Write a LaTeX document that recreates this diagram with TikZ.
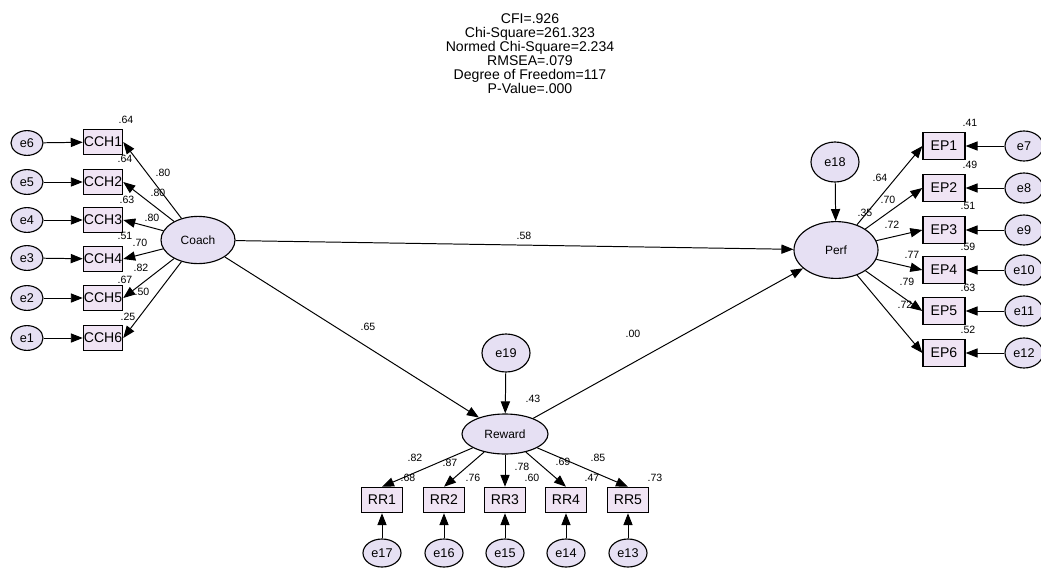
\documentclass[tikz,border=0pt]{standalone}
\usepackage{fontspec}
\setmainfont{Liberation Sans}
\usetikzlibrary{arrows.meta,shapes.geometric}
\definecolor{latfill}{RGB}{230,224,243}
\definecolor{obsfill}{RGB}{240,228,244}

\begin{document}
\begin{tikzpicture}[x=0.025cm, y=-0.025cm,
  lat/.style={draw, ellipse, fill=latfill, line width=0.8pt, inner sep=0pt, font=\fontsize{8.5}{9}\selectfont},
  err/.style={draw, ellipse, fill=latfill, line width=0.8pt, inner sep=0pt, minimum width=0.8cm, minimum height=0.62cm, font=\fontsize{9}{9}\selectfont},
  obs/.style={draw, rectangle, fill=obsfill, line width=0.9pt, inner sep=0pt, minimum width=0.98cm, minimum height=0.63cm, font=\fontsize{10}{10}\selectfont},
  coef/.style={inner sep=0pt, font=\fontsize{7.5}{8}\selectfont},
  path/.style={line width=0.7pt, -{Triangle[length=3mm,width=2.3mm]}}]
  \useasboundingbox (0,0) rectangle (1041,567);

  % fit indices
  \node[align=center, font=\fontsize{10}{10}\selectfont] (fit) at (530,54) {CFI=.926\\Chi-Square=261.323\\Normed Chi-Square=2.234\\RMSEA=.079\\Degree of Freedom=117\\P-Value=.000};

  % latent variables
  \node[lat, minimum width=1.85cm, minimum height=1.18cm] (coach) at (198,240) {Coach};
  \node[lat, minimum width=2.1cm, minimum height=1.42cm] (perf) at (836,250) {Perf};
  \node[lat, minimum width=2.15cm, minimum height=1.0cm] (reward) at (505,434) {Reward};
  \node[err, minimum width=1.2cm, minimum height=1.0cm] (e18) at (835,162) {e18};
  \node[err, minimum width=1.2cm, minimum height=0.95cm] (e19) at (506,353) {e19};

  % coach indicators
  \node[obs] (cch1) at (103,142) {CCH1};
  \node[obs] (cch2) at (103,182) {CCH2};
  \node[obs] (cch3) at (103,220) {CCH3};
  \node[obs] (cch4) at (103,259) {CCH4};
  \node[obs] (cch5) at (103,298) {CCH5};
  \node[obs] (cch6) at (103,338) {CCH6};
  \node[err] (e6) at (27,143) {e6};
  \node[err] (e5) at (27,182) {e5};
  \node[err] (e4) at (27,220) {e4};
  \node[err] (e3) at (27,258) {e3};
  \node[err] (e2) at (27,298) {e2};
  \node[err] (e1) at (27,338) {e1};

  % perf indicators
  \node[obs, minimum width=1.05cm, minimum height=0.68cm] (ep1) at (944,146) {EP1};
  \node[obs, minimum width=1.05cm, minimum height=0.68cm] (ep2) at (944,188) {EP2};
  \node[obs, minimum width=1.05cm, minimum height=0.68cm] (ep3) at (944,230) {EP3};
  \node[obs, minimum width=1.05cm, minimum height=0.68cm] (ep4) at (944,270) {EP4};
  \node[obs, minimum width=1.05cm, minimum height=0.68cm] (ep5) at (944,311) {EP5};
  \node[obs, minimum width=1.05cm, minimum height=0.68cm] (ep6) at (944,353) {EP6};
  \node[err, minimum width=0.95cm, minimum height=0.75cm] (e7) at (1024,146) {e7};
  \node[err, minimum width=0.95cm, minimum height=0.75cm] (e8) at (1024,188) {e8};
  \node[err, minimum width=0.95cm, minimum height=0.75cm] (e9) at (1024,230) {e9};
  \node[err, minimum width=0.95cm, minimum height=0.75cm] (e10) at (1024,270) {e10};
  \node[err, minimum width=0.95cm, minimum height=0.75cm] (e11) at (1024,311) {e11};
  \node[err, minimum width=0.95cm, minimum height=0.75cm] (e12) at (1024,353) {e12};

  % reward indicators
  \node[obs, minimum width=1.03cm] (rr1) at (382,500) {RR1};
  \node[obs, minimum width=1.03cm] (rr2) at (444,500) {RR2};
  \node[obs, minimum width=1.03cm] (rr3) at (505,500) {RR3};
  \node[obs, minimum width=1.03cm] (rr4) at (566,500) {RR4};
  \node[obs, minimum width=1.03cm] (rr5) at (628,500) {RR5};
  \node[err, minimum width=0.95cm, minimum height=0.7cm] (e17) at (382,553) {e17};
  \node[err, minimum width=0.95cm, minimum height=0.7cm] (e16) at (444,553) {e16};
  \node[err, minimum width=0.95cm, minimum height=0.7cm] (e15) at (505,553) {e15};
  \node[err, minimum width=0.95cm, minimum height=0.7cm] (e14) at (566,553) {e14};
  \node[err, minimum width=0.95cm, minimum height=0.7cm] (e13) at (628,553) {e13};

  % structural paths
  \draw[path] (coach) -- (perf);
  \draw[path] (coach) -- (reward);
  \draw[path] (reward) -- (perf);
  \draw[path] (e18) -- (perf);
  \draw[path] (e19) -- (reward);

  % measurement paths
  \draw[path] (coach) -- (cch1.east);
  \draw[path] (coach) -- (cch2.east);
  \draw[path] (coach) -- (cch3.east);
  \draw[path] (coach) -- (cch4.east);
  \draw[path] (coach) -- (cch5.east);
  \draw[path] (coach) -- (cch6.east);
  \draw[path] (e6) -- (cch1);
  \draw[path] (e5) -- (cch2);
  \draw[path] (e4) -- (cch3);
  \draw[path] (e3) -- (cch4);
  \draw[path] (e2) -- (cch5);
  \draw[path] (e1) -- (cch6);

  \draw[path] (perf) -- (ep1.west);
  \draw[path] (perf) -- (ep2.west);
  \draw[path] (perf) -- (ep3.west);
  \draw[path] (perf) -- (ep4.west);
  \draw[path] (perf) -- (ep5.west);
  \draw[path] (perf) -- (ep6.west);
  \draw[path] (e7) -- (ep1);
  \draw[path] (e8) -- (ep2);
  \draw[path] (e9) -- (ep3);
  \draw[path] (e10) -- (ep4);
  \draw[path] (e11) -- (ep5);
  \draw[path] (e12) -- (ep6);

  \draw[path] (reward) -- (rr1.north);
  \draw[path] (reward) -- (rr2.north);
  \draw[path] (reward) -- (rr3.north);
  \draw[path] (reward) -- (rr4.north);
  \draw[path] (reward) -- (rr5.north);
  \draw[path] (e17) -- (rr1);
  \draw[path] (e16) -- (rr2);
  \draw[path] (e15) -- (rr3);
  \draw[path] (e14) -- (rr4);
  \draw[path] (e13) -- (rr5);

  % estimates
  \node[coef] (b1) at (524,236) {.58};
  \node[coef] (b2) at (368,327) {.65};
  \node[coef] (b3) at (633,334) {.00};
  \node[coef] (r2perf) at (865,213) {.35};
  \node[coef] (r2rew) at (533,399) {.43};

  \node[coef] (r2c1) at (126,120) {.64};
  \node[coef] (r2c2) at (125,159) {.64};
  \node[coef] (r2c3) at (127,200) {.63};
  \node[coef] (r2c4) at (125,236) {.51};
  \node[coef] (r2c5) at (125,280) {.67};
  \node[coef] (r2c6) at (128,317) {.25};
  \node[coef] (lc1) at (163,173) {.80};
  \node[coef] (lc2) at (158,193) {.80};
  \node[coef] (lc3) at (152,218) {.80};
  \node[coef] (lc4) at (140,243) {.70};
  \node[coef] (lc5) at (141,268) {.82};
  \node[coef] (lc6) at (142,292) {.50};

  \node[coef] (r2e1) at (970,123) {.41};
  \node[coef] (r2e2) at (970,165) {.49};
  \node[coef] (r2e3) at (968,206) {.51};
  \node[coef] (r2e4) at (968,247) {.59};
  \node[coef] (r2e5) at (968,288) {.63};
  \node[coef] (r2e6) at (968,330) {.52};
  \node[coef] (le1) at (880,178) {.64};
  \node[coef] (le2) at (888,200) {.70};
  \node[coef] (le3) at (892,225) {.72};
  \node[coef] (le4) at (912,255) {.77};
  \node[coef] (le5) at (907,282) {.79};
  \node[coef] (le6) at (905,305) {.72};

  \node[coef] (lr1) at (415,458) {.82};
  \node[coef] (lr2) at (450,463) {.87};
  \node[coef] (lr3) at (522,467) {.78};
  \node[coef] (lr4) at (563,462) {.69};
  \node[coef] (lr5) at (598,458) {.85};
  \node[coef] (r2r1) at (408,478) {.68};
  \node[coef] (r2r2) at (473,478) {.76};
  \node[coef] (r2r3) at (532,478) {.60};
  \node[coef] (r2r4) at (592,478) {.47};
  \node[coef] (r2r5) at (655,478) {.73};
\end{tikzpicture}
\end{document}
